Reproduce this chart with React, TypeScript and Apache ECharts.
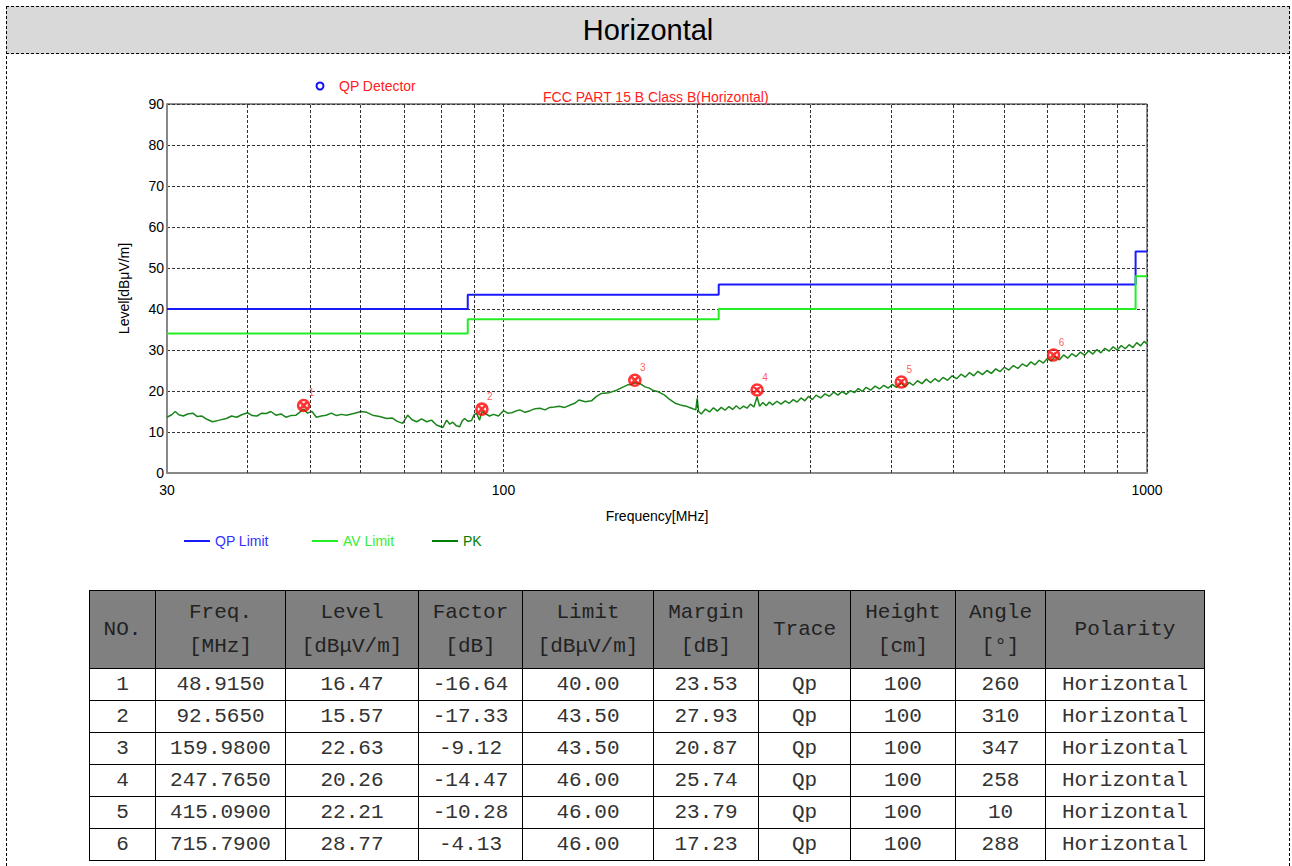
import React, { useEffect, useRef } from 'react';
import * as echarts from 'echarts';

const pageTitle = 'Horizontal';
const chartTitle = 'FCC PART 15 B Class B(Horizontal)';
const detectorLabel = 'QP Detector';
const xAxisName = 'Frequency[MHz]';
const yAxisName = 'Level[dBμV/m]';

const limitFreqs = [30, 88, 216, 960, 1000];
const qpLimit = [40, 43.5, 46, 54];
const avLimit = [34, 37.5, 40, 48];
const minorGridFreqs = [40, 50, 60, 70, 80, 90, 200, 300, 400, 500, 600, 700, 800, 900];

const pkTrace: [number, number][] = [
  [30, 13.6], [30.5, 14.2], [30.9, 15.0], [31.3, 14.2], [31.8, 13.9], [32.3, 14.4], [32.9, 14.6], [33.4, 13.8],
  [34.0, 13.9], [34.6, 13.1], [35.3, 12.5], [36.2, 12.9], [37.1, 13.3], [37.8, 13.9], [38.5, 13.6], [39.2, 14.2],
  [40.0, 14.7], [40.7, 14.0], [41.4, 13.9], [42.1, 14.6], [42.8, 14.5], [43.5, 15.0], [44.3, 14.1], [45.1, 14.4],
  [45.9, 13.6], [46.7, 14.0], [47.6, 14.1], [48.2, 14.8], [48.9, 15.6], [49.6, 14.6], [50.4, 15.0], [51.2, 13.6],
  [52.1, 13.9], [53.0, 14.1], [54.0, 14.6], [55.0, 14.0], [56.0, 14.3], [57.0, 14.1], [58.5, 14.5], [60.1, 15.0],
  [61.3, 14.8], [62.6, 14.1], [64.2, 13.8], [65.8, 13.3], [67.2, 13.4], [68.4, 12.6], [69.7, 12.1], [71.0, 14.1],
  [72.1, 13.0], [73.3, 12.5], [74.6, 13.2], [76.0, 12.5], [77.3, 12.9], [78.7, 11.7], [80.5, 11.1], [81.6, 12.9],
  [82.5, 11.9], [83.4, 12.4], [84.5, 11.5], [85.5, 11.3], [86.2, 12.6], [87.0, 13.3], [88.1, 12.6], [89.2, 12.8],
  [90.0, 14.2], [90.8, 14.6], [91.8, 12.9], [92.6, 15.0], [93.4, 14.6], [95.1, 13.9], [96.5, 14.3], [98.2, 13.9],
  [100, 15.2], [101.5, 14.6], [103, 14.7], [104.5, 15.1], [106, 15.4], [108, 14.8], [110, 15.2], [112, 15.7],
  [114, 15.8], [116, 15.4], [118, 16.0], [120, 16.1], [122, 16.3], [124.5, 16.0], [127, 16.6], [129, 17.0],
  [131, 17.8], [134, 17.4], [137, 17.6], [139.5, 18.7], [142, 19.4], [146, 19.6], [150, 20.2], [153, 20.9],
  [156, 21.5], [158, 21.6], [160, 22.0], [163, 21.8], [166, 21.0], [168.5, 20.7], [171, 20.1], [174, 19.8],
  [178, 19.0], [181, 18.0], [185, 17.0], [189, 16.5], [193, 16.2], [196, 15.8], [199, 15.4], [200, 18.2],
  [201, 15.0], [203, 14.4], [206, 15.6], [209, 14.9], [212, 15.9], [215, 15.1], [218, 16.0], [221, 15.3],
  [224, 16.2], [227, 15.5], [230, 16.4], [233, 15.6], [236, 16.3], [239, 15.8], [242, 16.8], [245, 16.1],
  [247.8, 18.6], [250, 16.3], [253, 17.2], [256, 16.4], [259, 17.3], [262, 16.6], [266, 17.5], [270, 16.8],
  [274, 17.6], [278, 17.0], [282, 17.9], [286, 17.3], [290, 18.3], [294, 17.6], [298, 18.7], [302, 17.9],
  [306, 19.0], [311, 18.3], [316, 19.3], [321, 18.7], [326, 19.7], [331, 19.0], [336, 19.9], [341, 19.2],
  [346, 20.1], [351, 19.6], [356, 20.6], [361, 19.9], [366, 20.9], [372, 20.2], [378, 21.2], [384, 20.5],
  [390, 21.4], [396, 20.7], [402, 21.6], [408, 20.9], [415, 21.9], [421, 21.0], [427, 22.1], [433, 21.4],
  [440, 22.5], [447, 21.8], [454, 22.9], [461, 22.0], [468, 23.0], [475, 22.3], [482, 23.3], [490, 22.6],
  [498, 23.7], [506, 23.0], [514, 24.1], [522, 23.4], [530, 24.5], [538, 23.7], [546, 24.8], [555, 24.0],
  [564, 25.0], [573, 24.3], [582, 25.4], [591, 24.7], [600, 25.8], [610, 25.1], [620, 26.2], [630, 25.5],
  [640, 26.6], [650, 26.0], [660, 27.1], [670, 26.4], [680, 27.5], [690, 26.8], [700, 27.9], [710, 27.3],
  [720, 28.4], [731, 27.6], [742, 28.8], [753, 28.0], [764, 29.1], [776, 28.4], [788, 29.5], [800, 28.7],
  [812, 29.8], [824, 29.0], [836, 30.1], [848, 29.3], [860, 30.4], [873, 29.7], [886, 30.8], [899, 30.0],
  [912, 31.1], [925, 30.3], [938, 31.3], [951, 30.6], [964, 31.8], [977, 31.0], [990, 32.1], [1000, 31.5],
];

const markerNo = [1, 2, 3, 4, 5, 6];
const markerFreq = [48.915, 92.565, 159.98, 247.765, 415.09, 715.79];
const markerLevel = [16.47, 15.57, 22.63, 20.26, 22.21, 28.77];
const markerFactor = [-16.64, -17.33, -9.12, -14.47, -10.28, -4.13];
const markerLimit = [40.0, 43.5, 43.5, 46.0, 46.0, 46.0];
const markerMargin = [23.53, 27.93, 20.87, 25.74, 23.79, 17.23];
const markerTrace = ['Qp', 'Qp', 'Qp', 'Qp', 'Qp', 'Qp'];
const markerHeight = [100, 100, 100, 100, 100, 100];
const markerAngle = [260, 310, 347, 258, 10, 288];
const markerPolarity = ['Horizontal', 'Horizontal', 'Horizontal', 'Horizontal', 'Horizontal', 'Horizontal'];

const headerTop = ['NO.', 'Freq.', 'Level', 'Factor', 'Limit', 'Margin', 'Trace', 'Height', 'Angle', 'Polarity'];
const headerBottom = ['', '[MHz]', '[dBμV/m]', '[dB]', '[dBμV/m]', '[dB]', '', '[cm]', '[°]', ''];
const colWidths = [66, 130, 133, 104, 131, 105, 92, 105, 90, 159];

function stepData(levels: number[]) {
  const out: [number, number][] = [];
  for (let i = 0; i < levels.length; i++) {
    out.push([limitFreqs[i], levels[i]]);
    out.push([limitFreqs[i + 1], levels[i]]);
  }
  return out;
}

const FONT = '"Liberation Sans", Arial, sans-serif';
const MONO = '"Liberation Mono", "Courier New", monospace';
const markerSymbol =
  'path://M5,0A5,5 0 1,1 -5,0A5,5 0 1,1 5,0ZM-3.4,-3.4L3.4,3.4M3.4,-3.4L-3.4,3.4';

function Chart() {
  const ref = useRef<HTMLDivElement>(null);
  useEffect(() => {
    if (!ref.current) return;
    const chart = echarts.init(ref.current, undefined, { renderer: 'svg' });
    const legendBase = {
      icon: 'rect',
      itemWidth: 26,
      itemHeight: 2,
      itemGap: 8,
      top: 534,
      padding: 0,
      selectedMode: false,
      textStyle: { fontFamily: FONT, fontSize: 14 },
    };
    chart.setOption({
      animation: false,
      title: {
        text: chartTitle,
        left: 543,
        top: 90,
        padding: 0,
        textStyle: { color: '#ff2020', fontSize: 14, fontWeight: 'normal', fontFamily: FONT },
      },
      legend: [
        { ...legendBase, left: 184, data: [{ name: 'QP Limit', textStyle: { color: '#3333ff' } }] },
        { ...legendBase, left: 312, data: [{ name: 'AV Limit', textStyle: { color: '#33ee33' } }] },
        { ...legendBase, left: 432, data: [{ name: 'PK', textStyle: { color: '#008000' } }] },
      ],
      graphic: [
        {
          type: 'circle',
          shape: { cx: 320, cy: 86, r: 3.5 },
          style: { fill: 'none', stroke: '#1010ff', lineWidth: 2 },
        },
        {
          type: 'text',
          x: 339,
          y: 86,
          style: {
            text: detectorLabel,
            fill: '#ff2020',
            font: `14px ${FONT}`,
            textVerticalAlign: 'middle',
          },
        },
      ],
      grid: {
        left: 167,
        top: 104,
        width: 980,
        height: 369,
        show: true,
        borderColor: '#222',
        borderWidth: 1,
        containLabel: false,
      },
      xAxis: {
        type: 'log',
        logBase: 10,
        min: 30,
        max: 1000,
        name: xAxisName,
        nameLocation: 'middle',
        nameGap: 36,
        nameTextStyle: { color: '#000', fontSize: 14, fontFamily: FONT },
        axisLine: { show: true, lineStyle: { color: '#888', width: 2 } },
        axisTick: { show: false },
        axisLabel: {
          color: '#000',
          fontSize: 14,
          fontFamily: FONT,
          margin: 10,
          showMinLabel: true,
          showMaxLabel: true,
          formatter: (v: number) => String(Math.round(v)),
        },
        splitLine: { show: true, lineStyle: { color: '#333', type: [3, 2], width: 1 } },
      },
      yAxis: {
        type: 'value',
        min: 0,
        max: 90,
        interval: 10,
        name: yAxisName,
        nameLocation: 'middle',
        nameGap: 36,
        nameTextStyle: { color: '#000', fontSize: 14, fontFamily: FONT },
        axisLine: { show: true, lineStyle: { color: '#888', width: 2 } },
        axisTick: { show: false },
        axisLabel: { color: '#000', fontSize: 14, fontFamily: FONT, margin: 3 },
        splitLine: { show: true, lineStyle: { color: '#333', type: [3, 2], width: 1 } },
      },
      series: [
        {
          name: 'grid',
          type: 'line',
          data: [],
          silent: true,
          z: 1,
          markLine: {
            silent: true,
            symbol: ['none', 'none'],
            label: { show: false },
            lineStyle: { color: '#333', type: [3, 2], width: 1 },
            data: minorGridFreqs.map((f) => ({ xAxis: f })),
          },
        },
        {
          name: 'QP Limit',
          type: 'line',
          data: stepData(qpLimit),
          showSymbol: false,
          symbol: 'none',
          color: '#1a1aff',
          lineStyle: { width: 2, color: '#1a1aff' },
          z: 3,
        },
        {
          name: 'AV Limit',
          type: 'line',
          data: stepData(avLimit),
          showSymbol: false,
          symbol: 'none',
          color: '#22ee22',
          lineStyle: { width: 2, color: '#22ee22' },
          z: 3,
        },
        {
          name: 'PK',
          type: 'line',
          data: pkTrace,
          showSymbol: false,
          symbol: 'none',
          color: '#008000',
          lineStyle: { width: 1.5, color: '#1a851a' },
          z: 4,
        },
        {
          name: 'Markers',
          type: 'scatter',
          data: markerFreq.map((f, i) => [f, markerLevel[i], markerNo[i]]),
          symbol: markerSymbol,
          symbolSize: 11,
          itemStyle: { color: 'rgba(255,0,0,0)', borderColor: '#ff0000', borderWidth: 2.6 },
          label: {
            show: true,
            position: 'top',
            distance: 1,
            offset: [8, 0],
            color: '#ff3030',
            fontSize: 10,
            fontFamily: FONT,
            formatter: (p: any) => String(p.value[2]),
          },
          emphasis: { disabled: true },
          z: 5,
        },
      ],
    });
    return () => chart.dispose();
  }, []);
  return (
    <div
      ref={ref}
      style={{ position: 'absolute', left: 0, top: 0, width: 1292, height: 580 }}
    />
  );
}

const cellBase: React.CSSProperties = {
  border: '1px solid #000',
  textAlign: 'center',
  padding: 0,
  fontFamily: MONO,
  fontSize: 21,
  color: '#333',
};

export default function App() {
  return (
    <div
      style={{
        position: 'absolute',
        left: 0,
        top: 0,
        width: 1292,
        height: 866,
        background: '#fff',
        overflow: 'hidden',
        fontFamily: FONT,
      }}
    >
      <Chart />
      <div
        style={{
          position: 'absolute',
          left: 6,
          top: 6,
          width: 1284,
          height: 48,
          boxSizing: 'border-box',
          background: '#d9d9d9',
          borderTop: '1px dashed #000',
          borderBottom: '1px dashed #000',
          display: 'flex',
          alignItems: 'center',
          justifyContent: 'center',
          fontSize: 29,
          color: '#000',
          fontFamily: FONT,
        }}
      >
        {pageTitle}
      </div>
      <div style={{ position: 'absolute', left: 6, top: 6, width: 0, height: 860, borderLeft: '1px dashed #000' }} />
      <div style={{ position: 'absolute', left: 1289, top: 6, width: 0, height: 860, borderLeft: '1px dashed #000' }} />
      <table
        style={{
          position: 'absolute',
          left: 89,
          top: 590,
          width: 1115,
          borderCollapse: 'collapse',
          tableLayout: 'fixed',
        }}
      >
        <colgroup>
          {colWidths.map((w, i) => (
            <col key={i} style={{ width: w }} />
          ))}
        </colgroup>
        <thead>
          <tr>
            {headerTop.map((h, i) => (
              <th
                key={i}
                style={{
                  ...cellBase,
                  background: '#808080',
                  color: '#222',
                  fontWeight: 'normal',
                  height: 77,
                  lineHeight: '34px',
                }}
              >
                {h}
                {headerBottom[i] ? (
                  <>
                    <br />
                    {headerBottom[i]}
                  </>
                ) : null}
              </th>
            ))}
          </tr>
        </thead>
        <tbody>
          {markerNo.map((n, i) => {
            const cells = [
              String(n),
              markerFreq[i].toFixed(4),
              markerLevel[i].toFixed(2),
              markerFactor[i].toFixed(2),
              markerLimit[i].toFixed(2),
              markerMargin[i].toFixed(2),
              markerTrace[i],
              String(markerHeight[i]),
              String(markerAngle[i]),
              markerPolarity[i],
            ];
            return (
              <tr key={n}>
                {cells.map((c, j) => (
                  <td key={j} style={{ ...cellBase, height: 31, lineHeight: '31px' }}>
                    {c}
                  </td>
                ))}
              </tr>
            );
          })}
        </tbody>
      </table>
    </div>
  );
}
